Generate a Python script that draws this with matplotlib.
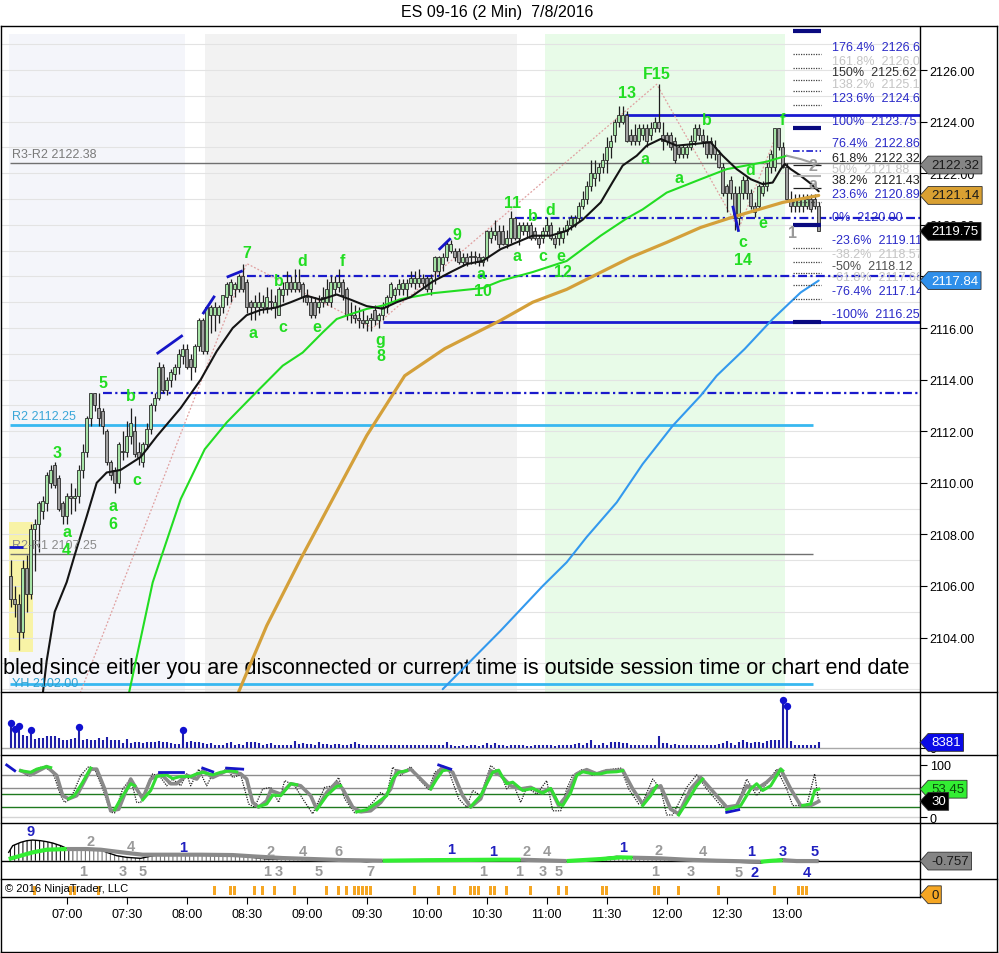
import numpy as np
import matplotlib
matplotlib.use('Agg')
import matplotlib.pyplot as plt
from matplotlib.path import Path
from matplotlib.lines import Line2D
from matplotlib.transforms import blended_transform_factory

plt.rcParams['font.family'] = ['Liberation Sans', 'DejaVu Sans']


def tm(s):
    h, m = s.split(':')
    return int(h) * 60 + int(m)


# ---------------- price bars (2 min, first bar 06:32) ----------------
first_bar = '06:32'
opens = [2106.4, 2105.5, 2105.3, 2104.2, 2106.7, 2105.7, 2108.2, 2108.4, 2108.9, 2109.2,
         2110.0, 2110.7, 2110.2, 2109.2, 2108.7, 2109.5, 2109.4, 2109.5, 2110.5, 2111.2,
         2112.5, 2113.5, 2112.9, 2112.8, 2112.0, 2110.8, 2110.5, 2110.0, 2111.2, 2111.2,
         2111.8, 2112.0, 2111.2, 2110.8, 2111.5, 2112.1, 2113.0, 2113.3, 2114.5, 2113.6,
         2114.0, 2114.2, 2114.5, 2114.9, 2115.2, 2114.8, 2114.5, 2115.3, 2116.3, 2115.1,
         2116.5, 2116.5, 2116.5, 2116.8, 2117.2, 2117.3, 2117.5, 2117.5, 2118.0, 2117.8,
         2117.0, 2116.8, 2116.8, 2116.8, 2116.8, 2117.0, 2116.8, 2116.5, 2117.3, 2117.5,
         2117.8, 2117.5, 2117.8, 2117.7, 2117.2, 2117.0, 2117.0, 2116.8, 2117.0, 2117.0,
         2117.0, 2117.5, 2117.6, 2117.8, 2117.5, 2116.5, 2116.5, 2116.4, 2116.3, 2116.2,
         2116.3, 2116.7, 2116.3, 2116.5, 2116.8, 2117.2, 2117.3, 2117.5, 2117.5, 2117.5,
         2117.75, 2117.75, 2117.75, 2117.95, 2117.95, 2117.5, 2118.2, 2118.2, 2118.5, 2118.75,
         2119.0, 2119.0, 2119.0, 2118.55, 2118.75, 2118.75, 2118.75, 2118.75, 2118.55, 2118.75,
         2119.5, 2119.6, 2119.75, 2119.75, 2119.25, 2119.5, 2120.25, 2119.5, 2119.75, 2119.75,
         2120.0, 2119.75, 2119.5, 2119.5, 2119.75, 2120.0, 2119.5, 2119.5, 2119.5, 2119.75,
         2120.0, 2120.0, 2120.25, 2120.75, 2121.0, 2121.5, 2121.8, 2122.0, 2122.25, 2122.5,
         2123.0, 2123.5, 2124.0, 2124.0, 2124.25, 2123.5, 2123.5, 2123.25, 2123.5, 2123.75,
         2123.5, 2123.75, 2124.0, 2123.5, 2123.5, 2123.5, 2123.25, 2123.0, 2122.75, 2122.75,
         2123.0, 2123.25, 2123.75, 2123.5, 2123.25, 2123.25, 2123.0, 2122.75, 2122.25, 2121.5,
         2121.75, 2121.25, 2120.25, 2121.25, 2121.75, 2121.25, 2120.75, 2120.75, 2121.25, 2121.5,
         2122.25, 2122.25, 2123.75, 2123.0, 2122.25, 2121.0, 2120.75, 2120.75, 2120.75, 2120.75,
         2121.0, 2121.0, 2120.75]
highs = [2107.0, 2106.0, 2105.7, 2107.0, 2107.2, 2108.4, 2108.6, 2109.3, 2109.5, 2110.4,
         2110.7, 2110.8, 2110.3, 2109.3, 2109.6, 2110.0, 2109.8, 2110.7, 2111.5, 2112.6,
         2113.5, 2113.5, 2113.5, 2112.9, 2112.1, 2110.9, 2110.6, 2111.6, 2112.0, 2112.4,
         2112.9, 2112.6, 2111.6, 2111.6, 2112.3, 2113.1, 2113.5, 2114.7, 2114.6, 2114.1,
         2114.4, 2114.6, 2115.2, 2115.4, 2115.4, 2115.0, 2115.4, 2116.4, 2116.4, 2116.9,
         2116.9, 2117.0, 2116.9, 2117.3, 2117.8, 2117.9, 2117.8, 2118.1, 2118.5, 2117.9,
         2117.1, 2117.3, 2117.4, 2117.3, 2117.6, 2117.5, 2117.3, 2117.6, 2117.8, 2118.2,
         2118.0, 2118.3, 2118.3, 2117.8, 2117.5, 2117.2, 2117.2, 2117.3, 2117.6, 2117.9,
         2118.0, 2118.0, 2118.3, 2117.9, 2117.6, 2117.0, 2116.9, 2116.8, 2116.7, 2116.5,
         2116.6, 2116.9, 2116.6, 2117.0, 2117.3, 2117.8, 2117.6, 2117.9, 2117.9, 2117.9,
         2118.2, 2118.2, 2118.3, 2118.1, 2118.0, 2118.1, 2118.8, 2118.8, 2118.9, 2119.35,
         2119.4, 2119.1, 2119.1, 2118.9, 2118.9, 2119.0, 2119.0, 2118.9, 2118.8, 2119.8,
         2119.9, 2120.2, 2120.0, 2120.0, 2119.8, 2120.55, 2120.3, 2120.1, 2120.1, 2120.1,
         2120.1, 2119.9, 2119.6, 2119.9, 2120.3, 2120.1, 2119.6, 2119.9, 2119.9, 2120.2,
         2120.4, 2120.4, 2120.9, 2121.3, 2121.7, 2122.5, 2122.5, 2122.4, 2122.8, 2123.4,
         2123.5, 2124.1, 2124.6, 2124.6, 2124.4, 2123.7, 2123.9, 2123.9, 2123.9, 2123.9,
         2124.0, 2124.2, 2125.45, 2124.0, 2123.6, 2123.6, 2123.4, 2123.1, 2123.1, 2123.1,
         2123.5, 2123.9, 2123.9, 2123.7, 2123.5, 2123.4, 2123.3, 2122.9, 2122.4, 2121.6,
         2121.9, 2121.5, 2121.5, 2121.9, 2121.9, 2121.4, 2120.9, 2121.6, 2121.7, 2122.4,
         2122.9, 2123.75, 2123.75, 2123.2, 2122.4, 2121.3, 2121.2, 2121.2, 2121.2, 2121.2,
         2121.2, 2121.2, 2120.9]
lows = [2105.2, 2104.8, 2103.5, 2104.0, 2105.0, 2105.5, 2106.6, 2107.3, 2108.6, 2108.9,
        2109.8, 2109.8, 2108.9, 2108.4, 2108.4, 2108.8, 2108.9, 2109.2, 2110.2, 2111.0,
        2112.2, 2112.8, 2112.2, 2111.9, 2110.7, 2110.1, 2109.6, 2109.8, 2110.9, 2111.0,
        2111.5, 2111.0, 2110.7, 2110.6, 2111.3, 2111.9, 2112.8, 2113.2, 2113.5, 2113.4,
        2113.7, 2114.0, 2114.2, 2114.6, 2114.4, 2114.0, 2114.3, 2115.1, 2115.0, 2115.0,
        2115.8, 2115.9, 2116.2, 2116.6, 2116.9, 2117.0, 2117.2, 2117.4, 2117.4, 2116.6,
        2116.3, 2116.3, 2116.5, 2116.6, 2116.6, 2116.7, 2116.4, 2116.5, 2117.0, 2117.3,
        2117.4, 2117.4, 2117.4, 2117.0, 2116.9, 2116.4, 2116.4, 2116.6, 2116.8, 2116.9,
        2116.8, 2117.3, 2117.4, 2117.1, 2116.3, 2116.2, 2116.2, 2116.0, 2116.0, 2115.9,
        2115.9, 2116.1, 2116.0, 2116.3, 2116.6, 2117.0, 2117.1, 2117.3, 2117.3, 2117.2,
        2117.6, 2117.5, 2117.6, 2117.6, 2117.4, 2117.3, 2117.7, 2118.0, 2118.2, 2118.6,
        2118.9, 2118.6, 2118.5, 2118.4, 2118.4, 2118.5, 2118.5, 2118.4, 2118.4, 2118.6,
        2119.3, 2119.4, 2119.1, 2119.2, 2119.1, 2119.3, 2119.4, 2119.2, 2119.6, 2119.5,
        2119.4, 2119.4, 2119.1, 2119.3, 2119.6, 2119.4, 2119.1, 2119.2, 2119.3, 2119.6,
        2119.8, 2119.9, 2120.1, 2120.6, 2120.8, 2121.3, 2121.5, 2121.7, 2122.0, 2122.0,
        2122.6, 2123.2, 2123.8, 2123.9, 2123.2, 2123.1, 2123.1, 2123.1, 2123.3, 2123.0,
        2123.3, 2123.6, 2123.6, 2122.9, 2123.1, 2122.9, 2122.4, 2122.6, 2122.6, 2122.6,
        2122.9, 2123.1, 2123.3, 2123.0, 2122.6, 2122.6, 2122.5, 2122.2, 2121.1, 2120.5,
        2121.0, 2119.8, 2120.0, 2121.0, 2121.0, 2120.6, 2120.3, 2120.6, 2121.1, 2121.3,
        2122.0, 2122.1, 2122.9, 2122.2, 2120.9, 2120.5, 2120.5, 2120.5, 2120.5, 2120.6,
        2120.5, 2120.6, 2119.75]
closes = [2105.5, 2105.3, 2104.2, 2106.7, 2105.7, 2108.2, 2108.4, 2109.2, 2109.3, 2110.3,
          2110.5, 2109.9, 2109.0, 2108.7, 2109.5, 2109.4, 2109.5, 2110.5, 2111.2, 2112.5,
          2113.5, 2113.0, 2112.5, 2112.2, 2110.8, 2110.3, 2110.0, 2111.5, 2111.2, 2111.8,
          2112.3, 2111.1, 2111.0, 2111.5, 2112.1, 2113.0, 2113.3, 2114.5, 2113.6, 2114.0,
          2114.3, 2114.5, 2115.0, 2115.2, 2114.5, 2114.5, 2115.3, 2116.3, 2115.1, 2116.8,
          2116.8, 2116.8, 2116.8, 2117.3, 2117.7, 2117.8, 2117.7, 2118.0, 2117.5, 2116.8,
          2116.8, 2117.0, 2117.0, 2117.0, 2117.2, 2117.0, 2117.0, 2117.5, 2117.5, 2117.8,
          2117.5, 2117.8, 2117.5, 2117.2, 2117.0, 2116.5, 2116.5, 2117.0, 2117.2, 2117.5,
          2117.8, 2117.8, 2117.8, 2117.3, 2116.5, 2116.5, 2116.4, 2116.3, 2116.2, 2116.3,
          2116.4, 2116.3, 2116.5, 2116.8, 2117.2, 2117.7, 2117.5, 2117.7, 2117.75, 2117.75,
          2117.95, 2117.95, 2117.95, 2117.75, 2117.5, 2117.95, 2118.75, 2118.75, 2118.75, 2119.25,
          2119.25, 2118.75, 2118.55, 2118.75, 2118.55, 2118.75, 2118.75, 2118.55, 2118.75, 2119.75,
          2119.75, 2119.75, 2119.25, 2119.25, 2119.5, 2120.25, 2119.5, 2120.0, 2120.0, 2120.0,
          2119.5, 2119.5, 2119.25, 2119.75, 2120.0, 2119.5, 2119.25, 2119.75, 2119.75, 2120.0,
          2120.25, 2120.25, 2120.75, 2121.0, 2121.5, 2122.0, 2122.0, 2122.25, 2122.5, 2123.0,
          2123.25, 2124.0, 2124.25, 2124.25, 2123.25, 2123.25, 2123.25, 2123.75, 2123.75, 2123.25,
          2123.75, 2124.0, 2123.75, 2123.25, 2123.25, 2123.0, 2122.5, 2122.75, 2123.0, 2123.0,
          2123.25, 2123.75, 2123.5, 2123.25, 2122.75, 2122.75, 2122.75, 2122.25, 2121.25, 2121.25,
          2121.25, 2120.25, 2121.25, 2121.75, 2121.25, 2120.75, 2120.5, 2121.5, 2121.5, 2122.25,
          2122.75, 2123.75, 2123.0, 2122.25, 2121.0, 2120.75, 2121.0, 2121.0, 2121.0, 2121.0,
          2120.6, 2120.75, 2119.75]
volumes = [41250, 31350, 36300, 21450, 19800, 29700, 14850, 16500, 16500, 19800,
           19800, 19800, 16500, 13200, 13200, 14850, 16500, 34650, 13200, 14850,
           13200, 13200, 16500, 13200, 18150, 13200, 13200, 13200, 8250, 14850,
           8250, 9900, 9900, 8250, 9900, 9900, 9900, 11550, 9900, 9900,
           8250, 6600, 6600, 29700, 9900, 11550, 9900, 9900, 8250, 6600,
           8250, 4950, 4950, 4950, 8250, 9900, 4950, 6600, 4950, 9900,
           9900, 9900, 8250, 4950, 6600, 8250, 4950, 4950, 4950, 4950,
           4950, 11550, 6600, 8250, 6600, 6600, 4950, 9900, 6600, 6600,
           4950, 6600, 6600, 4950, 4950, 6600, 9900, 6600, 4950, 4950,
           4950, 4950, 4950, 4125, 4125, 4950, 4125, 4125, 4125, 4125,
           4125, 4125, 4125, 4125, 4125, 4125, 4950, 4950, 4125, 9900,
           4125, 3300, 3300, 4125, 3300, 4125, 4125, 3300, 4125, 8250,
           4950, 8250, 4950, 3795, 2805, 4950, 3795, 4950, 3795, 2805,
           2475, 4950, 3795, 4950, 3795, 4950, 2805, 3795, 3795, 3795,
           3795, 6600, 8250, 4950, 8250, 13200, 4950, 4950, 8250, 4950,
           9900, 9900, 9900, 8250, 8250, 4950, 4950, 4950, 3795, 4950,
           3795, 4950, 19800, 8250, 8250, 4950, 6600, 4950, 3795, 3795,
           3795, 3795, 3795, 4950, 4950, 3795, 4950, 6600, 8250, 11550,
           8250, 4950, 9405, 13200, 9405, 8250, 9405, 9900, 8250, 11055,
           13200, 12705, 13200, 79200, 69300, 11550, 4950, 3795, 4950, 4950,
           3795, 4950, 8381]

# ---------------- moving averages ----------------
ma_black = [('06:48', 2101.8), ('06:50', 2103.1), ('06:54', 2105.0), ('07:00', 2106.15),
            ('07:04', 2107.2), ('07:10', 2108.7), ('07:15', 2110.0), ('07:20', 2110.4),
            ('07:27', 2110.5), ('07:37', 2111.0), ('07:45', 2111.8), ('07:57', 2112.9),
            ('08:07', 2114.0), ('08:15', 2115.1), ('08:23', 2116.0), ('08:30', 2116.5),
            ('08:37', 2116.7), ('08:45', 2116.8), ('08:52', 2117.0), ('09:00', 2117.25),
            ('09:07', 2117.1), ('09:15', 2117.3), ('09:22', 2117.1), ('09:30', 2116.85),
            ('09:38', 2116.75), ('09:45', 2117.0), ('09:52', 2117.2), ('10:03', 2117.8),
            ('10:12', 2118.17), ('10:20', 2118.48), ('10:28', 2118.6), ('10:37', 2119.06),
            ('10:45', 2119.32), ('10:53', 2119.58), ('11:02', 2119.58), ('11:10', 2119.77),
            ('11:18', 2120.2), ('11:27', 2120.87), ('11:33', 2121.66), ('11:38', 2122.3),
            ('11:45', 2122.68), ('11:50', 2123.07), ('11:57', 2123.33), ('12:05', 2123.07),
            ('12:13', 2123.13), ('12:22', 2123.2), ('12:28', 2122.68), ('12:35', 2122.16),
            ('12:42', 2121.77), ('12:48', 2121.58), ('12:53', 2121.64), ('12:57', 2122.16),
            ('12:59', 2122.36), ('13:02', 2122.16), ('13:07', 2121.9), ('13:12', 2121.6),
            ('13:16', 2121.3)]
ma_green = [('07:31', 2101.8), ('07:43', 2106.14), ('07:57', 2109.37), ('08:09', 2111.3),
            ('08:20', 2112.34), ('08:33', 2113.37), ('08:48', 2114.54), ('08:58', 2115.05),
            ('09:08', 2115.83), ('09:15', 2116.35), ('09:22', 2116.54), ('09:30', 2116.74),
            ('09:38', 2116.87), ('09:47', 2117.12), ('10:03', 2117.35), ('10:28', 2117.55),
            ('10:37', 2117.83), ('10:53', 2118.17), ('11:10', 2118.6), ('11:27', 2119.58),
            ('11:40', 2120.25), ('11:48', 2120.6), ('12:00', 2121.25), ('12:17', 2121.77),
            ('12:30', 2122.16), ('12:50', 2122.45), ('13:00', 2122.68)]
ma_green_tail = [('13:00', 2122.68), ('13:07', 2122.55), ('13:16', 2122.32)]
ma_gold = [('08:26', 2101.9), ('08:40', 2104.46), ('08:57', 2107.05), ('09:13', 2109.37),
           ('09:30', 2111.83), ('09:49', 2114.15), ('10:09', 2115.2), ('10:37', 2116.3),
           ('10:53', 2117.0), ('11:10', 2117.5), ('11:27', 2118.16), ('11:42', 2118.74),
           ('12:00', 2119.32), ('12:17', 2119.9), ('12:33', 2120.3), ('12:58', 2120.87),
           ('13:16', 2121.14)]
ma_blue = [('10:08', 2102.0), ('10:37', 2104.27), ('10:58', 2106.0), ('11:10', 2106.92),
           ('11:20', 2107.9), ('11:35', 2109.24), ('11:48', 2110.73), ('12:03', 2112.21),
           ('12:17', 2113.38), ('12:25', 2114.15), ('12:39', 2115.19), ('12:53', 2116.35),
           ('13:07', 2117.38), ('13:16', 2117.84)]

# pivots / levels
r3_r2 = 2122.38
r2 = 2112.25
r2_r1 = 2107.25
yh_line = 2102.2
level_end = '13:13'
dashdot_levels = [('07:18', 2113.5), ('08:30', 2118.0), ('10:44', 2120.25)]
solid_levels = [('11:39', 2124.25), ('09:38', 2116.25)]

# fibonacci block
fib_zero, fib_hundred = 2120.00, 2123.75
fib_ratios = [2.0, 1.764, 1.618, 1.5, 1.382, 1.236, 1.0, 0.764, 0.618, 0.5, 0.382,
              0.236, 0.0, -0.236, -0.382, -0.5, -0.618, -0.764, -1.0]
fib_span = ('13:03', '13:17')

zigzag = [('07:00', 2100.5), ('08:30', 2118.5), ('09:33', 2116.0), ('11:55', 2125.45),
          ('12:36', 2119.85), ('12:56', 2123.7)]
trend_ticks = [[('06:31', 2107.5), ('06:38', 2107.5)],
               [('07:45', 2115.0), ('07:58', 2115.72)],
               [('08:08', 2116.54), ('08:14', 2117.25)],
               [('08:20', 2117.97), ('08:28', 2118.22)],
               [('10:06', 2119.03), ('10:12', 2119.48)],
               [('12:33', 2120.74), ('12:36', 2119.73)]]

sessions = [('06:31', '07:59', '#f4f5fa'), ('08:09', '10:45', '#f2f2f2'),
            ('10:59', '12:59', '#e8fbe8')]
open_box = ('06:31', '06:43', 2103.45, 2108.5)

wave_labels = [('3', '06:55', 2111.16), ('a', '07:00', 2108.1), ('4', '07:00', 2107.43),
               ('5', '07:18', 2113.9), ('b', '07:32', 2113.38), ('a', '07:23', 2109.11),
               ('6', '07:23', 2108.44), ('c', '07:35', 2110.11), ('7', '08:30', 2118.93),
               ('b', '08:46', 2117.86), ('d', '08:58', 2118.61), ('f', '09:18', 2118.61),
               ('a', '08:33', 2115.83), ('c', '08:48', 2116.07), ('e', '09:05', 2116.07),
               ('g', '09:37', 2115.55), ('8', '09:37', 2114.93), ('9', '10:15', 2119.64),
               ('a', '10:27', 2118.12), ('10', '10:28', 2117.45), ('11', '10:43', 2120.87),
               ('b', '10:53', 2120.38), ('d', '11:02', 2120.61), ('a', '10:45', 2118.83),
               ('c', '10:58', 2118.83), ('e', '11:07', 2118.83), ('12', '11:08', 2118.18),
               ('13', '11:40', 2125.14), ('F15', '11:55', 2125.88), ('a', '11:49', 2122.58),
               ('a', '12:06', 2121.84), ('b', '12:20', 2124.07), ('d', '12:42', 2122.16),
               ('c', '12:38', 2119.35), ('14', '12:38', 2118.67), ('e', '12:48', 2120.1),
               ('f', '12:58', 2124.1)]
gray_labels = [('1', '13:03', 2119.71), ('2', '13:13', 2122.29), ('a', '13:13', 2121.62)]

# ---------------- stochastics ----------------
stoch_gray = [('06:37', 89), ('06:42', 81), ('06:50', 97), ('06:55', 80), ('06:58', 41),
              ('07:01', 35), ('07:05', 41), ('07:12', 92), ('07:15', 92), ('07:19', 54),
              ('07:22', 12), ('07:26', 15), ('07:32', 73), ('07:34', 60), ('07:38', 35),
              ('07:42', 73), ('07:47', 83), ('07:52', 64), ('07:55', 64), ('08:00', 80),
              ('08:05', 73), ('08:08', 89), ('08:13', 76), ('08:20', 89), ('08:27', 83),
              ('08:30', 73), ('08:33', 28), ('08:36', 19), ('08:40', 31), ('08:42', 51),
              ('08:47', 44), ('08:52', 64), ('08:57', 60), ('09:02', 41), ('09:05', 15),
              ('09:10', 47), ('09:15', 67), ('09:18', 54), ('09:23', 19), ('09:27', 10),
              ('09:32', 12), ('09:37', 28), ('09:42', 54), ('09:45', 89), ('09:48', 86),
              ('09:52', 92), ('09:57', 73), ('10:02', 54), ('10:05', 83), ('10:08', 96),
              ('10:13', 86), ('10:18', 41), ('10:22', 19), ('10:27', 35), ('10:32', 89),
              ('10:37', 80), ('10:42', 60), ('10:47', 54), ('10:52', 57), ('10:57', 47),
              ('11:02', 54), ('11:06', 22), ('11:10', 41), ('11:15', 83), ('11:20', 91),
              ('11:25', 83), ('11:30', 89), ('11:38', 90), ('11:43', 54), ('11:48', 25),
              ('11:53', 54), ('11:57', 60), ('12:02', 15), ('12:06', 6), ('12:12', 54),
              ('12:17', 76), ('12:22', 54), ('12:30', 19), ('12:35', 22), ('12:40', 60),
              ('12:45', 54), ('12:50', 67), ('12:57', 92), ('13:02', 54), ('13:07', 22),
              ('13:12', 22), ('13:16', 30)]
stoch_green = [
    [('06:37', 89), ('06:42', 86), ('06:45', 92), ('06:50', 97), ('06:52', 95)],
    [('07:01', 35), ('07:04', 42), ('07:08', 67), ('07:12', 94)],
    [('07:24', 14), ('07:27', 35), ('07:32', 64), ('07:34', 60)],
    [('07:38', 33), ('07:42', 51), ('07:45', 78), ('07:50', 81), ('07:53', 74), ('07:57', 78),
     ('08:02', 78), ('08:05', 83), ('08:08', 86), ('08:13', 81), ('08:17', 86), ('08:22', 89),
     ('08:25', 87)],
    [('08:36', 20), ('08:40', 25), ('08:43', 42), ('08:47', 41), ('08:52', 64), ('08:55', 62)],
    [('09:05', 14), ('09:10', 41), ('09:15', 59), ('09:17', 60)],
    [('09:25', 10), ('09:30', 14), ('09:35', 27), ('09:40', 41), ('09:43', 73), ('09:46', 86),
     ('09:50', 89)],
    [('10:02', 54), ('10:05', 73), ('10:08', 89), ('10:11', 91)],
    [('10:22', 20), ('10:27', 41), ('10:30', 64), ('10:33', 86), ('10:36', 90), ('10:38', 76),
     ('10:40', 64), ('10:43', 67), ('10:48', 51), ('10:53', 55), ('10:58', 46), ('11:02', 55),
     ('11:06', 25), ('11:08', 22), ('11:12', 47), ('11:15', 80), ('11:18', 87), ('11:23', 83),
     ('11:27', 83), ('11:30', 86), ('11:35', 87), ('11:38', 89)],
    [('11:48', 22), ('11:52', 41), ('11:55', 60)],
    [('12:06', 4), ('12:10', 28), ('12:15', 60), ('12:18', 73)],
    [('12:30', 14), ('12:37', 22), ('12:42', 54), ('12:45', 64), ('12:48', 51), ('12:52', 60),
     ('12:57', 92), ('12:58', 89)],
    [('13:08', 22), ('13:12', 25), ('13:14', 51), ('13:16', 53.45)]]
stoch_fast = [('06:37', 89), ('06:41', 78), ('06:43', 89), ('06:48', 97), ('06:53', 87),
              ('06:57', 41), ('06:59', 28), ('07:02', 35), ('07:07', 80), ('07:11', 97),
              ('07:14', 92), ('07:18', 54), ('07:22', 9), ('07:24', 8), ('07:28', 54),
              ('07:32', 74), ('07:35', 28), ('07:37', 28), ('07:41', 67), ('07:43', 83),
              ('07:47', 76), ('07:50', 60), ('07:53', 73), ('07:57', 60), ('08:00', 83),
              ('08:02', 60), ('08:06', 92), ('08:10', 60), ('08:13', 83), ('08:17', 80),
              ('08:20', 96), ('08:23', 76), ('08:27', 81), ('08:31', 25), ('08:34', 19),
              ('08:38', 54), ('08:42', 57), ('08:46', 28), ('08:49', 70), ('08:54', 60),
              ('08:58', 35), ('09:03', 6), ('09:09', 57), ('09:13', 60), ('09:16', 76),
              ('09:19', 35), ('09:24', 8), ('09:28', 9), ('09:33', 28), ('09:37', 47),
              ('09:40', 41), ('09:43', 96), ('09:47', 80), ('09:52', 97), ('09:56', 73),
              ('10:01', 53), ('10:04', 86), ('10:08', 96), ('10:11', 89), ('10:16', 35),
              ('10:20', 19), ('10:23', 51), ('10:27', 41), ('10:32', 99), ('10:37', 83),
              ('10:40', 54), ('10:43', 67), ('10:47', 28), ('10:50', 57), ('10:55', 44),
              ('11:00', 70), ('11:03', 12), ('11:07', 12), ('11:10', 54), ('11:13', 80),
              ('11:18', 92), ('11:23', 80), ('11:28', 89), ('11:33', 92), ('11:37', 94),
              ('11:41', 54), ('11:46', 25), ('11:48', 28), ('11:53', 73), ('11:57', 54),
              ('12:00', 4), ('12:03', 4), ('12:10', 57), ('12:15', 81), ('12:20', 54),
              ('12:27', 22), ('12:30', 17), ('12:35', 22), ('12:40', 73), ('12:45', 41),
              ('12:50', 64), ('12:55', 92), ('13:00', 54), ('13:03', 22), ('13:10', 22),
              ('13:14', 83), ('13:16', 28)]
stoch_ticks = [[('06:30', 100), ('06:34', 89)], [('07:46', 87), ('07:58', 87)],
               [('08:08', 94), ('08:13', 87)], [('08:20', 94), ('08:28', 92)],
               [('10:06', 100), ('10:12', 92)], [('12:30', 9), ('12:36', 14)]]
stoch_levels = [(80, '#8c8c8c'), (55, '#8c8c8c'), (45, '#1f7a1f'), (20, '#1f7a1f'), (0, '#d4d4d4')]

# ---------------- oscillator panel ----------------
osc_line = [('06:31', 16.7), ('06:33', 30), ('06:37', 36.7), ('06:40', 40), ('06:43', 41.3),
            ('06:47', 40), ('06:50', 38), ('06:53', 35.3), ('06:57', 30), ('07:00', 24.7),
            ('07:03', 23.3), ('07:10', 23.3), ('07:17', 22), ('07:20', 16.7), ('07:25', 10),
            ('07:30', 6.7), ('07:37', 4.7), ('07:43', 10), ('07:50', 13.3), ('08:07', 13.3),
            ('08:23', 12), ('08:33', 6.7), ('08:40', 3.3), ('08:57', 3.3), ('09:13', 1.3),
            ('09:22', 0), ('09:30', -2), ('09:38', 0), ('10:03', 1.3), ('10:37', 2),
            ('10:53', 1.3), ('11:10', -1.3), ('11:27', 4.7), ('11:35', 8.7), ('11:43', 6.7),
            ('11:57', 5.3), ('12:10', 2), ('12:25', 0), ('12:37', -3.3), ('12:47', -4.7),
            ('12:53', 1.3), ('12:58', 3.3), ('13:03', 0), ('13:16', -0.7)]
osc_hump_end = '07:03'
osc_signal_green = [[('06:31', 3.3), ('06:37', 10), ('06:43', 16.7), ('06:50', 22), ('07:00', 23.3)],
                    [('09:38', 0), ('10:00', 1), ('10:37', 2), ('10:47', 2)],
                    [('11:10', -0.7), ('11:27', 3.3), ('11:37', 6.7), ('11:43', 6)],
                    [('12:47', -2), ('12:53', 0), ('12:58', 1)]]
osc_signal_gray = [[('07:00', 23.3), ('07:10', 23.3), ('07:17', 22), ('07:25', 18), ('07:32', 14.7),
                    ('07:38', 12), ('07:50', 12), ('08:07', 12), ('08:23', 11.3), ('08:33', 8.7),
                    ('08:48', 5.3), ('09:03', 3.3), ('09:18', 1.3), ('09:38', 0)],
                   [('10:47', 2), ('11:00', 0.5), ('11:10', -0.7)],
                   [('11:43', 6), ('11:57', 4.7), ('12:10', 2), ('12:25', 0), ('12:47', -2)],
                   [('12:58', 1), ('13:05', -0.7), ('13:16', -0.757)]]
osc_top = [('9', '06:42', 60, 'b'), ('2', '07:12', 40, 'g'), ('4', '07:32', 30, 'g'),
           ('1', '07:58', 26.8, 'b'), ('2', '08:42', 20, 'g'), ('4', '08:58', 20, 'g'),
           ('6', '09:16', 18.8, 'g'), ('1', '10:12', 23.4, 'b'), ('1', '10:33', 20, 'b'),
           ('2', '10:50', 20, 'g'), ('4', '11:00', 20, 'g'), ('1', '11:38', 26.8, 'b'),
           ('2', '11:56', 22, 'g'), ('4', '12:18', 18.8, 'g'), ('1', '12:42', 18.8, 'b'),
           ('3', '12:58', 20, 'b'), ('5', '13:14', 18.8, 'b')]
osc_bottom = [('1', '07:08', -21.2, 'g'), ('3', '07:28', -21.2, 'g'), ('5', '07:38', -21.2, 'g'),
              ('1', '08:40', -21.2, 'g'), ('3', '08:46', -21.2, 'g'), ('5', '09:06', -21.2, 'g'),
              ('7', '09:32', -21.2, 'g'), ('1', '10:28', -21.2, 'g'), ('1', '10:46', -21.2, 'g'),
              ('3', '10:58', -21.2, 'g'), ('5', '11:06', -21.2, 'g'), ('1', '11:54', -21.2, 'g'),
              ('3', '12:12', -21.2, 'g'), ('5', '12:36', -23.2, 'g'), ('2', '12:44', -23.2, 'b'),
              ('4', '13:10', -23.2, 'b')]

# ---------------- signal bars ----------------
signal_times = ['06:44', '07:02', '07:04', '07:16', '08:14', '08:22', '08:24', '08:34', '08:38',
                '08:44', '08:54', '09:10', '09:16', '09:20', '09:24', '09:26', '09:28', '09:30',
                '09:32', '09:54', '10:06', '10:14', '10:22', '10:24', '10:26', '10:32', '10:34',
                '10:40', '10:52', '11:06', '11:10', '11:28', '11:30', '11:54', '11:56', '12:06',
                '12:26', '12:54', '13:06', '13:08', '13:10']

tick_times = ['07:00', '07:30', '08:00', '08:30', '09:00', '09:30', '10:00', '10:30',
              '11:00', '11:30', '12:00', '12:30', '13:00']

# ---------------- layout ----------------
W, H = 999, 954
fig = plt.figure(figsize=(W / 100, H / 100), dpi=100)


def rect(x0, y0, x1, y1):
    return [x0 / W, 1 - y1 / H, (x1 - x0) / W, (y1 - y0) / H]


def fline(x0, y0, x1, y1, lw=1.0):
    fig.add_artist(Line2D([x0 / W, x1 / W], [1 - y0 / H, 1 - y1 / H], color='black', lw=lw,
                          transform=fig.transFigure))


ax = fig.add_axes(rect(2, 28, 920, 692.5))
ax_vol = fig.add_axes(rect(2, 692.5, 920, 756))
ax_sto = fig.add_axes(rect(2, 756, 920, 824))
ax_osc = fig.add_axes(rect(2, 824, 920, 880))
ax_sig = fig.add_axes(rect(2, 880, 920, 898))
all_axes = [ax, ax_vol, ax_sto, ax_osc, ax_sig]

x_lo, x_hi = 387.65, 846.65
for a in all_axes:
    a.set_xlim(x_lo, x_hi)
    for s in ['left', 'top', 'bottom']:
        a.spines[s].set_visible(False)
    a.spines['right'].set_linewidth(1.0)
    a.yaxis.tick_right()
    a.tick_params(axis='y', length=5, pad=2, labelsize=9, colors='black')
    a.tick_params(axis='x', bottom=False, labelbottom=False)


def tag_shape(x0, y0, width, height, mutation_size):
    pad = 0.22 * mutation_size
    x0, y0 = x0 - pad, y0 - pad
    width, height = width + 2 * pad, height + 2 * pad
    tip = height * 0.45
    verts = [(x0 - tip, y0 + height / 2), (x0, y0), (x0 + width, y0),
             (x0 + width, y0 + height), (x0, y0 + height), (x0 - tip, y0 + height / 2)]
    return Path(verts, closed=True)


def value_tag(a, value, text, fc, tc):
    tr = blended_transform_factory(a.transAxes, a.transData)
    a.text((931 - 2) / 918, value, text, transform=tr, ha='left', va='center', fontsize=9.5,
           color=tc, clip_on=False, zorder=20,
           bbox=dict(boxstyle=tag_shape, fc=fc, ec='#303030', lw=0.6))


def xy(points):
    return [tm(t) for t, _ in points], [v for _, v in points]


bar_t = tm(first_bar) + 2 * np.arange(len(closes))
o, h, l, c = map(np.array, (opens, highs, lows, closes))

# ---------------- main panel ----------------
ax.set_ylim(2101.91, 2127.67)
ax.set_yticks(np.arange(2104, 2127, 2))
ax.set_yticklabels(['%.2f' % v for v in np.arange(2104, 2127, 2)])
ax.set_yticks(np.arange(2102, 2128, 1), minor=True)
ax.tick_params(axis='y', which='minor', length=0)
ax.grid(axis='y', which='both', color='#e3e3e3', lw=0.8, zorder=0)
ax.set_axisbelow(True)

top_frac = (692.5 - 35) / 664.5
for t0, t1, col in sessions:
    ax.axvspan(tm(t0), tm(t1), ymax=top_frac, color=col, lw=0, zorder=0.2)
ax.fill_between([tm(open_box[0]), tm(open_box[1])], open_box[2], open_box[3],
                color='#f8f3a6', lw=0, zorder=0.3)

# pivot lines
x_left = 391.65
ax.hlines(r3_r2, x_left, x_hi, color='#707070', lw=1, zorder=1)
ax.hlines(r2, x_left, tm(level_end), color='#38b8f0', lw=2, zorder=1)
ax.hlines(r2_r1, x_left, tm(level_end), color='#707070', lw=1, zorder=1)
ax.hlines(yh_line, x_left, tm(level_end), color='#38b8f0', lw=2, zorder=1)
txt_tr = blended_transform_factory(ax.transAxes, ax.transData)
lx = 10 / 918
ax.text(lx, r3_r2 + 0.12, 'R3-R2 %.2f' % r3_r2, transform=txt_tr, fontsize=9, color='#7a7a7a', va='bottom')
ax.text(lx, r2 + 0.12, 'R2 %.2f' % r2, transform=txt_tr, fontsize=9, color='#3aa6d8', va='bottom')
ax.text(lx, r2_r1 + 0.12, 'R2-R1 %.2f' % r2_r1, transform=txt_tr, fontsize=9, color='#8a8a8a', va='bottom', zorder=6)
ax.text(lx, 2102.0, 'YH 2102.00', transform=txt_tr, fontsize=9, color='#30a0d0', va='bottom', zorder=6)

for t0, p in dashdot_levels:
    ax.hlines(p, tm(t0), x_hi, color='#1a1acc', lw=1.6, linestyles=(0, (4, 1.5, 1, 1.5)), zorder=2)
for t0, p in solid_levels:
    ax.hlines(p, tm(t0), x_hi, color='#1a1ad0', lw=2, zorder=2)

# fib block
fs, fe = tm(fib_span[0]), tm(fib_span[1])
fib_text_color = {1.764: '#2a2ac8', 1.618: '#c4c4c4', 1.5: '#303030', 1.382: '#c4c4c4',
                  1.236: '#2a2ac8', 1.0: '#2a2ac8', 0.764: '#2a2ac8', 0.618: '#202020',
                  0.5: '#c4c4c4', 0.382: '#202020', 0.236: '#2a2ac8', 0.0: '#2a2ac8',
                  -0.236: '#2a2ac8', -0.382: '#c4c4c4', -0.5: '#505050', -0.618: '#c4c4c4',
                  -0.764: '#2a2ac8', -1.0: '#2a2ac8'}
for r in fib_ratios:
    p = fib_zero + r * (fib_hundred - fib_zero)
    if r in (2.0, 1.0, 0.0, -1.0):
        ax.hlines(p, fs, fe, color='#0a0a80', lw=3, zorder=5)
    elif r == 0.764:
        ax.hlines(p, fs, fe, color='#1a1acc', lw=1.2, linestyles=(0, (4, 1.5, 1, 1.5)), zorder=5)
    elif r in (0.618, 0.382):
        ax.hlines(p, fs, fe, color='#202020', lw=0.9, zorder=5)
    elif r == 0.5:
        ax.hlines(p, fs, fe, color='#b0b0b0', lw=1.5, zorder=5)
    else:
        ax.hlines(p, fs, fe, color='#404040', lw=0.9, linestyles=(0, (1, 1)), zorder=5)
    if r in fib_text_color:
        ax.text((832 - 2) / 918, p + 0.06, '%g%%  %.2f' % (r * 100, p), transform=txt_tr,
                fontsize=9, color=fib_text_color[r], va='bottom', ha='left', clip_on=True, zorder=6)

# status message sits under the indicator lines
ax.text(3 / W, 1 - 669 / H,
        'bled since either you are disconnected or current time is outside session time or chart end date',
        transform=fig.transFigure, ha='left', va='center', fontsize=15.6, color='black',
        zorder=2.7, clip_on=False)

# zigzag + trend ticks
zx_, zy_ = xy(zigzag)
ax.plot(zx_, zy_, color='#e0a0a0', lw=0.9, ls=(0, (1.5, 1.5)), zorder=2.5)
for seg in trend_ticks:
    sx, sy = xy(seg)
    ax.plot(sx, sy, color='#1515c8', lw=2, zorder=6, solid_capstyle='butt')

# candles
up = c > o
body_col = np.where(up, '#a6e3a6', '#a0a0a0')
ax.vlines(bar_t, l, h, color='#1e1e1e', lw=0.9, zorder=3)
ax.bar(bar_t, np.maximum(np.abs(c - o), 0.04), bottom=np.minimum(o, c), width=1.6,
       color=body_col, edgecolor='#2a2a2a', linewidth=0.6, zorder=3.5)

# moving averages
for pts, col, lw in [(ma_blue, '#3399ee', 1.5), (ma_gold, '#d4a03a', 2.3),
                     (ma_green, '#22dd22', 1.5), (ma_green_tail, '#a0a0a0', 1.5),
                     (ma_black, '#141414', 1.5)]:
    mx, my = xy(pts)
    ax.plot(mx, my, color=col, lw=lw, zorder=4, solid_capstyle='round')

for txt, t, p in wave_labels:
    ax.text(tm(t), p, txt, color='#22dd22', fontsize=11.5, fontweight='bold',
            ha='center', va='center', zorder=7)
for txt, t, p in gray_labels:
    ax.text(tm(t), p, txt, color='#9a9a9a', fontsize=11.5, fontweight='bold',
            ha='center', va='center', zorder=7)

value_tag(ax, 2122.32, '2122.32', '#858585', '#1a1a1a')
value_tag(ax, 2121.14, '2121.14', '#d9a032', '#1a1a1a')
value_tag(ax, closes[-1], '%.2f' % closes[-1], '#000000', 'white')
value_tag(ax, 2117.84, '2117.84', '#2f8fea', 'white')

# ---------------- volume ----------------
vol = np.array(volumes)
ax_vol.set_ylim(-12375, 92400)
ax_vol.axhline(0, color='#a8a8a8', lw=1, zorder=1)
ax_vol.vlines(bar_t, 0, vol, color='#1e1ea8', lw=1.5, zorder=2)
big = vol > 28000
ax_vol.scatter(bar_t[big], vol[big], s=28, color='#1010d0', zorder=3, linewidths=0)
ax_vol.set_yticks([0])
ax_vol.set_yticklabels(['0'])
value_tag(ax_vol, volumes[-1], str(volumes[-1]), '#0a0ae6', 'white')

# ---------------- stochastics ----------------
ax_sto.set_ylim(-11.5, 119.2)
for lv, col in stoch_levels:
    ax_sto.axhline(lv, color=col, lw=1, zorder=1)
sx, sy = xy(stoch_fast)
ax_sto.plot(sx, sy, color='#202020', lw=0.9, ls=(0, (1, 1)), zorder=2)
gx, gy = xy(stoch_gray)
ax_sto.plot(gx, gy, color='#8a8a8a', lw=2.6, zorder=3)
for seg in stoch_green:
    sx, sy = xy(seg)
    ax_sto.plot(sx, sy, color='#33dd33', lw=2.2, zorder=4)
for seg in stoch_ticks:
    sx, sy = xy(seg)
    ax_sto.plot(sx, sy, color='#1515c8', lw=2, zorder=5)
ax_sto.set_yticks([0, 100])
ax_sto.set_yticklabels(['0', '100'])
value_tag(ax_sto, 53.45, '53.45', '#33ee33', '#0a4a0a')
value_tag(ax_sto, 30, '30', '#000000', 'white')

# ---------------- oscillator ----------------
ax_osc.set_ylim(-36.6, 75.4)
ax_osc.set_yticks([])
ox, oy = xy(osc_line)
ox, oy = np.array(ox), np.array(oy)
hump = ox <= tm(osc_hump_end)
plt.rcParams['hatch.linewidth'] = 0.8
ax_osc.fill_between(ox[hump], oy[hump], 0, where=oy[hump] > 0, facecolor='none',
                    edgecolor='#1a1a1a', hatch='||||', lw=0, zorder=1)
rest = ox >= tm(osc_hump_end)
ax_osc.fill_between(ox[rest], oy[rest], 0, where=oy[rest] > 0, facecolor='none',
                    edgecolor='#777777', hatch='||||', lw=0, zorder=1)
ax_osc.axhline(0, color='black', lw=1, zorder=2)
ax_osc.plot(ox, oy, color='black', lw=1, zorder=3)
for seg in osc_signal_gray:
    sx, sy = xy(seg)
    ax_osc.plot(sx, sy, color='#8a8a8a', lw=3, zorder=4, solid_capstyle='butt')
for seg in osc_signal_green:
    sx, sy = xy(seg)
    ax_osc.plot(sx, sy, color='#33ee33', lw=3, zorder=4, solid_capstyle='butt')
lab_col = {'b': '#2020c0', 'g': '#9a9a9a'}
for txt, t, v, k in osc_top + osc_bottom:
    ax_osc.text(tm(t), v, txt, color=lab_col[k], fontsize=10.5, fontweight='bold',
                ha='center', va='center', clip_on=True, zorder=6)
value_tag(ax_osc, -0.757, '-0.757', '#858585', '#1a1a1a')

# ---------------- signal bars ----------------
ax_sig.set_ylim(-0.25, 1.75)
ax_sig.set_yticks([])
ax_sig.bar([tm(t) for t in signal_times], 1.0, bottom=0, width=1.5, color='#f5a623', lw=0, zorder=1)
ax_sig.text(3 / 918, 0.5, '\u00a9 2016 NinjaTrader, LLC', transform=ax_sig.transAxes,
            fontsize=8, va='center', ha='left', zorder=2)
value_tag(ax_sig, 0, '0', '#f5a623', '#1a1a1a')
ax_sig.set_xticks([tm(t) for t in tick_times])
ax_sig.set_xticklabels(tick_times)
ax_sig.tick_params(axis='x', bottom=True, labelbottom=True, length=5, pad=3, labelsize=9,
                   direction='out')

# ---------------- frame, title ----------------
fline(1, 27, 997, 27)
for yy in (692.5, 756, 824, 880):
    fline(1, yy, 997, yy)
fline(1, 898, 920, 898)
fline(1, 27, 1, 953)
fline(997, 27, 997, 953)
fline(1, 953, 997, 953)

fig.text(497 / W, 1 - 13 / H, 'ES 09-16 (2 Min)  7/8/2016', ha='center', va='center', fontsize=11.5)

fig.savefig('out.png', dpi=100)
